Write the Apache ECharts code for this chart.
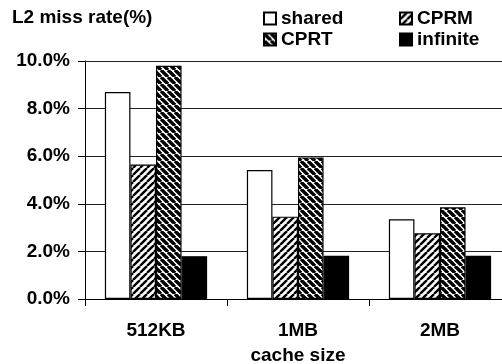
<!DOCTYPE html>
<html><head><meta charset="utf-8">
<script src="https://cdn.jsdelivr.net/npm/echarts@6/dist/echarts.min.js"></script>
<style>html,body{margin:0;padding:0;background:#fff}#c{width:502px;height:364px}</style>
</head><body><div id="c"></div>
<script>
const categories = ['512KB', '1MB', '2MB'];
const seriesNames = ['shared', 'CPRM', 'CPRT', 'infinite'];
const sharedVals = [8.7, 5.42, 3.35];
const cprmVals = [5.65, 3.46, 2.76];
const cprtVals = [9.8, 5.95, 3.85];
const infiniteVals = [1.8, 1.82, 1.82];
const yTicks = [0, 2, 4, 6, 8, 10];

function stripes(dir, lw, p) {
  const c = document.createElement('canvas');
  c.width = p; c.height = p;
  const g = c.getContext('2d');
  g.fillStyle = '#fff'; g.fillRect(0, 0, p, p);
  g.strokeStyle = '#000'; g.lineWidth = lw;
  for (let k = -1; k <= 1; k++) {
    g.beginPath();
    if (dir === '/') { g.moveTo(k * p, p); g.lineTo(k * p + p, 0); }
    else { g.moveTo(k * p, 0); g.lineTo(k * p + p, p); }
    g.stroke();
  }
  return { image: c, repeat: 'repeat' };
}
const FONT = 'Liberation Sans, Arial, sans-serif';
const txt = { fontFamily: FONT, fontSize: 19, fontWeight: 'bold', color: '#000' };

const chart = echarts.init(document.getElementById('c'), null, { renderer: 'canvas' });
const fills = ['#fff', stripes('/', 2.4, 7), stripes('\\', 3.4, 7), '#000'];
const vals = [sharedVals, cprmVals, cprtVals, infiniteVals];
const legendPos = [[263, 9], [399, 9], [263, 30], [399, 30]];

chart.setOption({
  animation: false,
  backgroundColor: '#fff',
  title: { text: 'L2 miss rate(%)', left: 12, top: 8, padding: 0, textStyle: txt },
  legend: seriesNames.map((n, i) => ({
    data: [n], left: legendPos[i][0], top: legendPos[i][1], padding: 0,
    itemWidth: 12, itemHeight: 12, icon: 'rect', selectedMode: false,
    textStyle: Object.assign({}, txt, { padding: [0, 0, 0, 0] })
  })),
  grid: { left: 85, top: 61, width: 426, height: 238, containLabel: false, outerBoundsMode: 'none' },
  xAxis: {
    type: 'category', data: categories,
    name: 'cache size', nameLocation: 'middle', nameGap: 47, nameTextStyle: txt,
    axisLine: { lineStyle: { color: '#000', width: 1 } },
    axisTick: { show: true, length: 7, lineStyle: { color: '#000' } },
    axisLabel: Object.assign({ margin: 22 }, txt)
  },
  yAxis: {
    type: 'value', min: yTicks[0], max: yTicks[yTicks.length - 1], interval: 2,
    axisLine: { show: true, lineStyle: { color: '#000', width: 1 } },
    axisTick: { show: true, length: 7, lineStyle: { color: '#000' } },
    axisLabel: Object.assign({ margin: 15, formatter: v => v.toFixed(1) + '%' }, txt),
    splitLine: { show: true, lineStyle: { color: '#222', width: 1 } }
  },
  series: seriesNames.map((n, i) => ({
    name: n, type: 'bar', data: vals[i], barGap: '0%', barCategoryGap: '28%',
    itemStyle: { color: fills[i], borderColor: '#000', borderWidth: 1.2 }
  }))
});
</script></body></html>
